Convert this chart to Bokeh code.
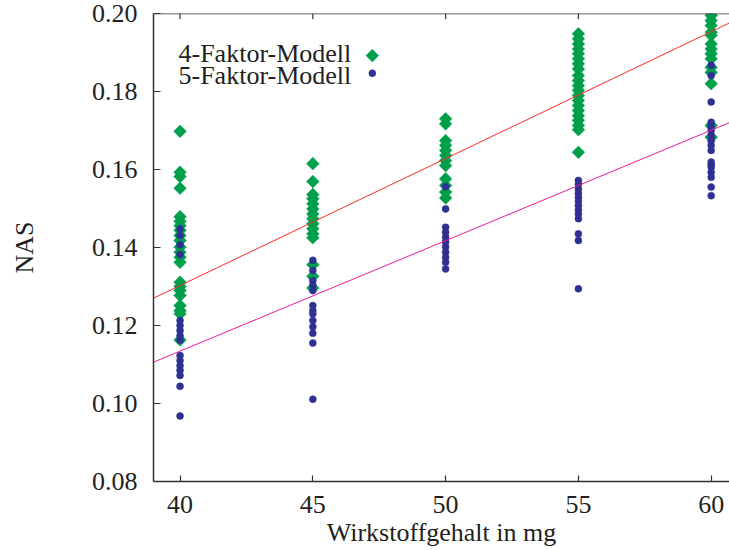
import numpy as np
from bokeh.plotting import figure
from bokeh.models import Range1d, FixedTicker, Label, Span
from bokeh.embed import file_html
from bokeh.resources import INLINE

# ---------------- data ----------------
doses = [40, 45, 50, 55, 60]

nas_4f_40 = [0.1698, 0.1593, 0.1582, 0.1552, 0.1479, 0.1467, 0.1456, 0.1444, 0.1431, 0.1418,
             0.1401, 0.1388, 0.1375, 0.1362, 0.1311, 0.1300, 0.1290, 0.1277, 0.1251, 0.1238,
             0.1230, 0.1163]
nas_4f_45 = [0.1615, 0.1569, 0.1536, 0.1525, 0.1512, 0.1499, 0.1486, 0.1474, 0.1461, 0.1448,
             0.1435, 0.1425, 0.1356, 0.1326, 0.1296]
nas_4f_50 = [0.1730, 0.1717, 0.1674, 0.1662, 0.1649, 0.1636, 0.1623, 0.1610, 0.1576, 0.1559,
             0.1542, 0.1527]
nas_4f_55 = [0.1948, 0.1935, 0.1922, 0.1909, 0.1897, 0.1884, 0.1871, 0.1858, 0.1841, 0.1828,
             0.1815, 0.1803, 0.1790, 0.1777, 0.1764, 0.1751, 0.1738, 0.1726, 0.1713, 0.1702,
             0.1644]
nas_4f_60 = [0.1995, 0.1982, 0.1969, 0.1952, 0.1944, 0.1922, 0.1909, 0.1897, 0.1884, 0.1862,
             0.1849, 0.1820, 0.1713, 0.1683]

nas_5f_40 = [0.1448, 0.1431, 0.1407, 0.1382, 0.1213, 0.1200, 0.1187, 0.1174, 0.1162, 0.1123,
             0.1110, 0.1097, 0.1085, 0.1072, 0.1044, 0.0968]
nas_5f_45 = [0.1367, 0.1341, 0.1315, 0.1303, 0.1290, 0.1251, 0.1238, 0.1230, 0.1213, 0.1197,
             0.1180, 0.1155, 0.1011]
nas_5f_50 = [0.1556, 0.1499, 0.1452, 0.1439, 0.1426, 0.1414, 0.1401, 0.1388, 0.1375, 0.1362,
             0.1345]
nas_5f_55 = [0.1572, 0.1562, 0.1550, 0.1539, 0.1529, 0.1519, 0.1508, 0.1497, 0.1486, 0.1474,
             0.1435, 0.1418, 0.1294]
nas_5f_60 = [0.1867, 0.1841, 0.1773, 0.1721, 0.1710, 0.1700, 0.1687, 0.1674, 0.1662, 0.1649,
             0.1619, 0.1612, 0.1606, 0.1593, 0.1580, 0.1555, 0.1533]

fit_x = [39.0, 61.0]
fit_4f = [0.1270, 0.1986]
fit_5f = [0.1106, 0.1729]

series_names = ["4-Faktor-Modell", "5-Faktor-Modell"]
x_ticks = [40, 45, 50, 55, 60]
y_ticks = [0.08, 0.10, 0.12, 0.14, 0.16, 0.18, 0.20]
y_tick_labels = {0.08: "0.08", 0.10: "0.10", 0.12: "0.12", 0.14: "0.14",
                 0.16: "0.16", 0.18: "0.18", 0.20: "0.20"}

series_4f = [nas_4f_40, nas_4f_45, nas_4f_50, nas_4f_55, nas_4f_60]
series_5f = [nas_5f_40, nas_5f_45, nas_5f_50, nas_5f_55, nas_5f_60]

def flatten(groups):
    xs, ys = [], []
    for d, vals in zip(doses, groups):
        xs += [d] * len(vals)
        ys += vals
    return xs, ys

x4, y4 = flatten(series_4f)
x5, y5 = flatten(series_5f)

# ---------------- styling / layout ----------------
FONT = "Liberation Serif"
FS = "26px"
GREEN = "#00a04b"
NAVY = "#2e3192"
RED = "#ff2a2a"
MAGENTA = "#f0189a"
AXIS = "#333333"
TEXT = "#231f20"
X0, X1 = 39.0, 60.69
Y0, Y1 = 0.08, 0.20
TOP_TICK = 0.0015          # inward length of the mirrored top ticks (data units)
KEY_X = 47.24              # legend key column (data units)
KEY_Y = [0.1892, 0.1847]   # legend key rows (data units)
LABEL_SX = 25              # legend text left (px from frame left)
LABEL_SY = [428.5, 406.5]  # legend text baselines (px from frame bottom)
DIAMOND = 9
DOT = 7

p = figure(width=729, height=550, x_range=Range1d(X0, X1), y_range=Range1d(Y0, Y1),
           output_backend="svg", toolbar_location=None,
           min_border_left=153, min_border_right=0, min_border_top=13, min_border_bottom=69,
           outline_line_color=None)
p.xgrid.visible = False
p.ygrid.visible = False
p.background_fill_color = "white"
p.border_fill_color = "white"

for ax in p.xaxis:
    ax.ticker = FixedTicker(ticks=x_ticks)
    ax.axis_label = "Wirkstoffgehalt in mg"
for ax in p.yaxis:
    ax.ticker = FixedTicker(ticks=y_ticks)
    ax.major_label_overrides = y_tick_labels
    ax.axis_label = "NAS"

for ax in list(p.xaxis) + list(p.yaxis):
    ax.axis_line_color = AXIS
    ax.axis_line_width = 1.5
    ax.major_tick_line_color = AXIS
    ax.major_tick_line_width = 1.2
    ax.major_tick_out = 0
    ax.minor_tick_line_color = None
    ax.major_label_text_font = FONT
    ax.major_label_text_font_size = FS
    ax.major_label_text_color = TEXT
    ax.axis_label_text_font = FONT
    ax.axis_label_text_font_size = FS
    ax.axis_label_text_font_style = "normal"
    ax.axis_label_text_color = TEXT

p.xaxis.major_tick_in = 6
p.xaxis.major_label_standoff = 14
p.xaxis.axis_label_standoff = 2
p.yaxis.major_tick_in = 7
p.yaxis.major_label_standoff = 16
p.yaxis.axis_label_standoff = 50

# top border and mirrored top ticks
p.add_layout(Span(location=Y1, dimension="width", line_color=AXIS, line_width=1.5))
p.segment(x0=x_ticks, y0=[Y1] * len(x_ticks), x1=x_ticks, y1=[Y1 - TOP_TICK] * len(x_ticks),
          line_color=AXIS, line_width=1.2)

# data points
p.scatter(x4, y4, marker="square", angle=np.pi / 4, size=DIAMOND,
          fill_color=GREEN, line_color=GREEN, line_width=0.5)
p.scatter(x5, y5, marker="circle", size=DOT, fill_color=NAVY, line_color=NAVY, line_width=0.5)

# fit lines
p.line(fit_x, fit_4f, line_color=RED, line_width=1)
p.line(fit_x, fit_5f, line_color=MAGENTA, line_width=1)

# key: text on the left, symbol on the right (gnuplot style)
for name, sy in zip(series_names, LABEL_SY):
    p.add_layout(Label(x=LABEL_SX, y=sy, x_units="screen", y_units="screen", text=name,
                       text_font=FONT, text_font_size=FS, text_color=TEXT,
                       text_baseline="alphabetic"))
p.scatter([KEY_X], [KEY_Y[0]], marker="square", angle=np.pi / 4, size=DIAMOND,
          fill_color=GREEN, line_color=GREEN, line_width=0.5)
p.scatter([KEY_X], [KEY_Y[1]], marker="circle", size=DOT,
          fill_color=NAVY, line_color=NAVY, line_width=0.5)

open("out.html", "w").write(file_html(p, INLINE))
